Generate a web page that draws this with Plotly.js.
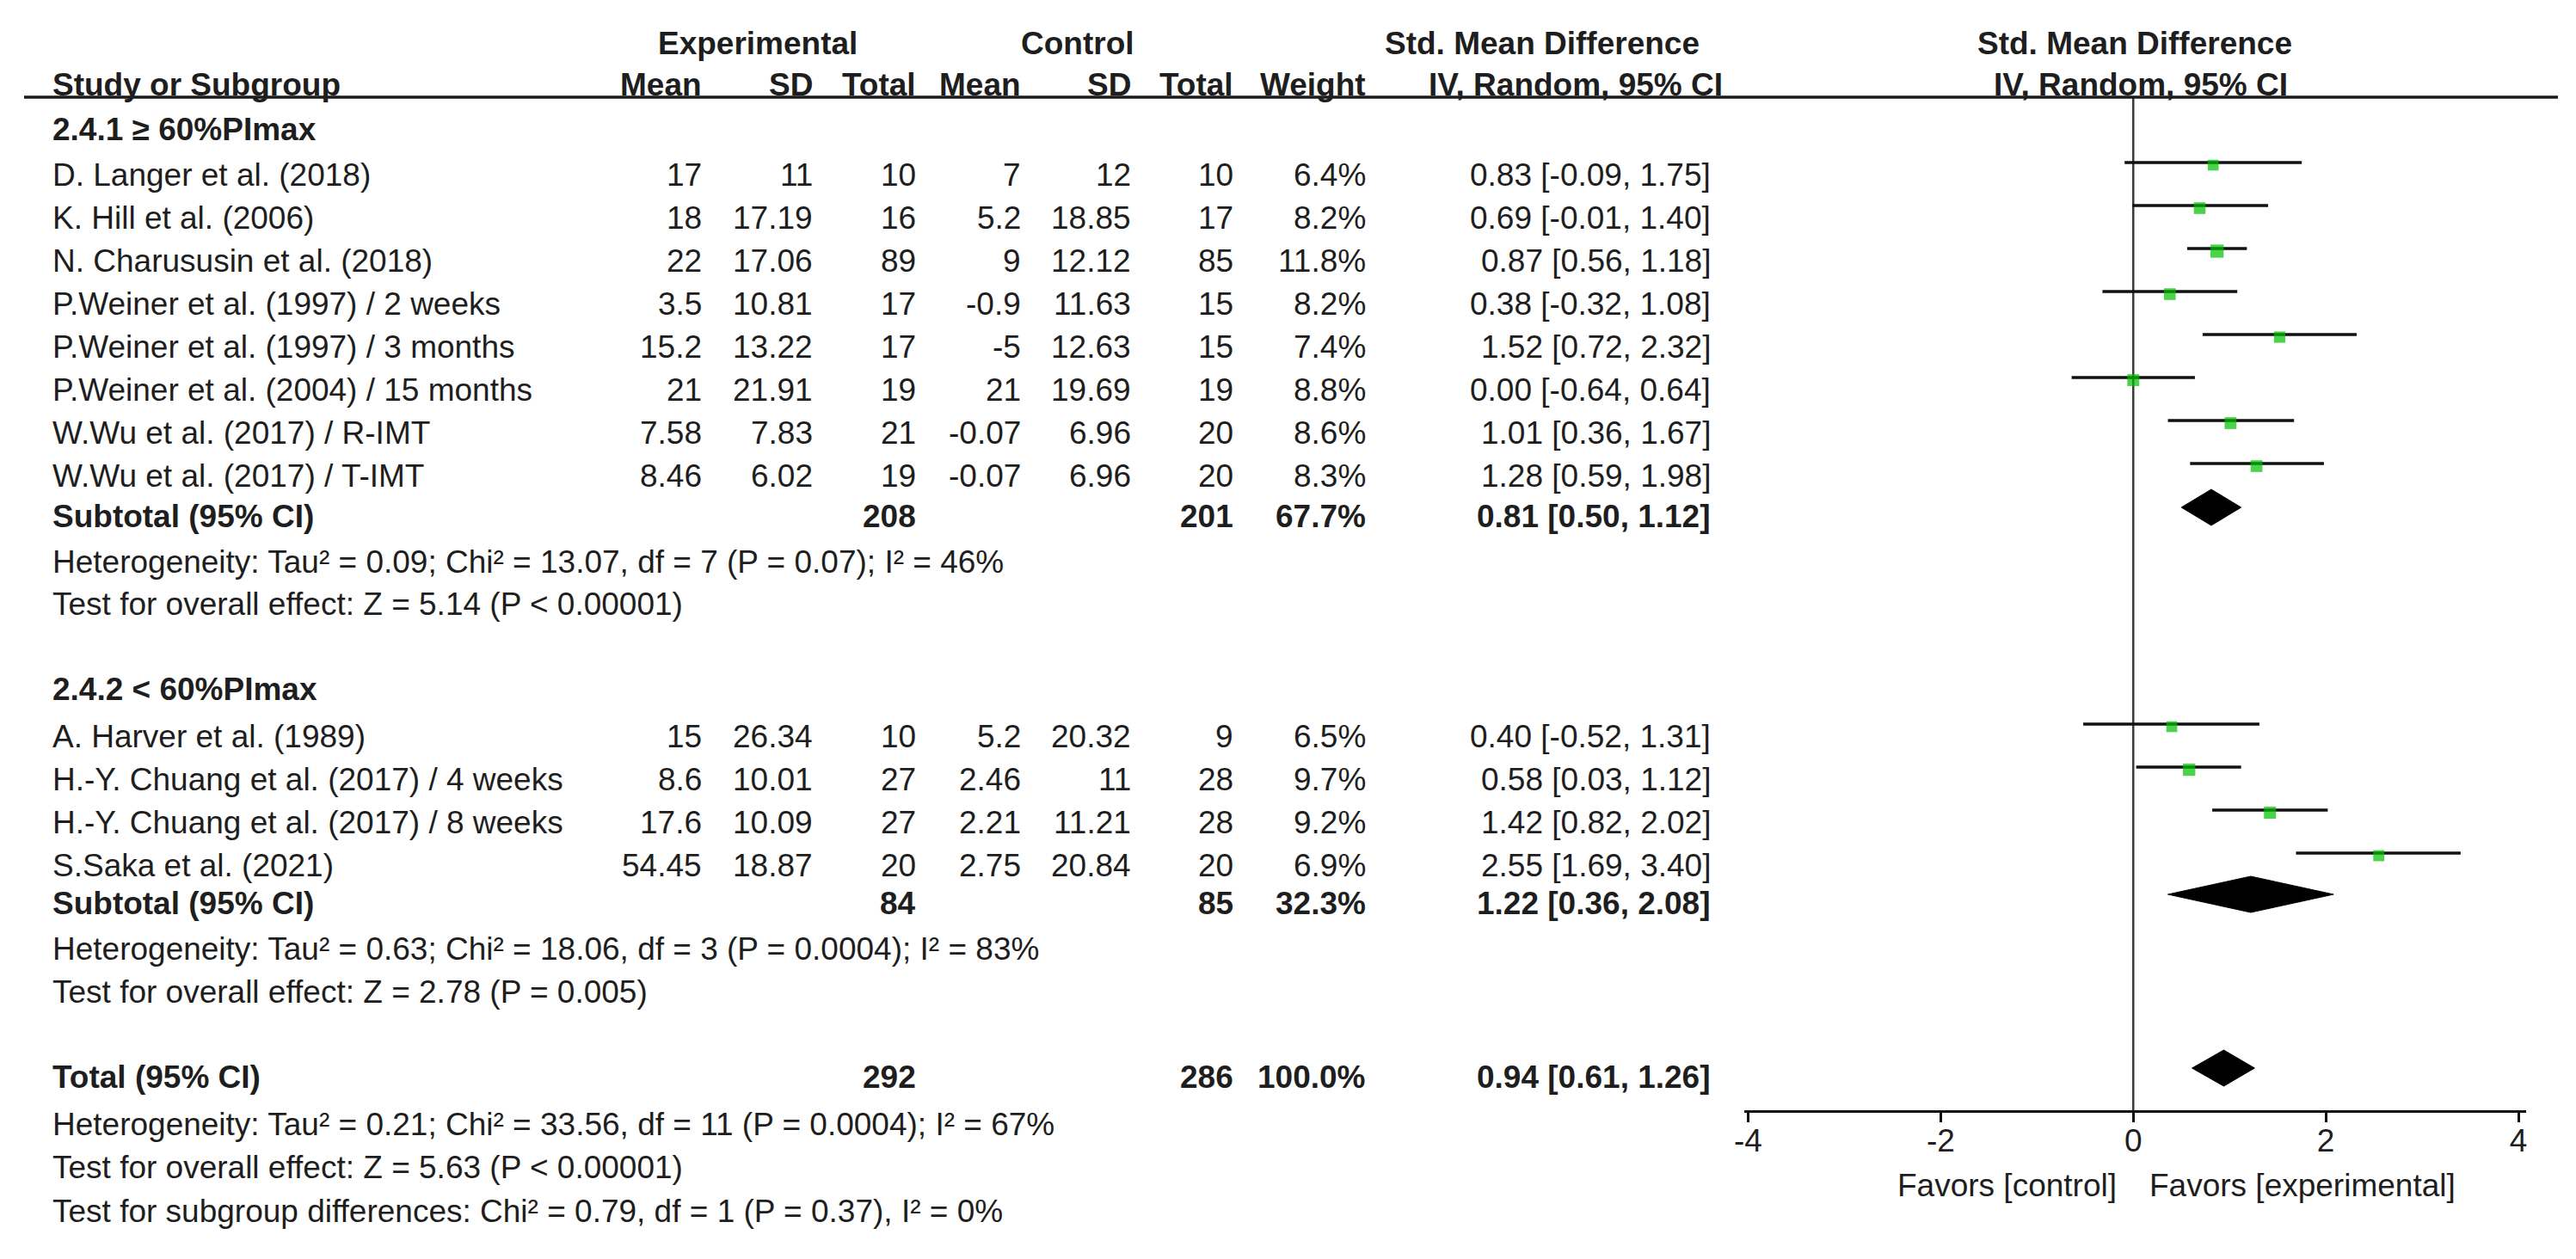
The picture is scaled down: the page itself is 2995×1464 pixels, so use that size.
<!DOCTYPE html>
<html>
<head>
<meta charset="utf-8">
<script src="https://cdn.plot.ly/plotly-3.0.1.min.js"></script>
<style>html,body{margin:0;padding:0;background:#fff;}#chart{width:2995px;height:1464px;}</style>
</head>
<body>
<div id="chart"></div>
<script>
// ---------------- DATA ----------------
const studies = [
  "D. Langer et al. (2018)",
  "K. Hill et al. (2006)",
  "N. Charususin et al. (2018)",
  "P.Weiner et al. (1997) / 2 weeks",
  "P.Weiner et al. (1997) / 3 months",
  "P.Weiner et al. (2004) / 15 months",
  "W.Wu et al. (2017) / R-IMT",
  "W.Wu et al. (2017) / T-IMT",
  "A. Harver et al. (1989)",
  "H.-Y. Chuang et al. (2017) / 4 weeks",
  "H.-Y. Chuang et al. (2017) / 8 weeks",
  "S.Saka et al. (2021)"
];
const expMean = [17, 18, 22, 3.5, 15.2, 21, 7.58, 8.46, 15, 8.6, 17.6, 54.45];
const expSD   = [11, 17.19, 17.06, 10.81, 13.22, 21.91, 7.83, 6.02, 26.34, 10.01, 10.09, 18.87];
const expN    = [10, 16, 89, 17, 17, 19, 21, 19, 10, 27, 27, 20];
const ctlMean = [7, 5.2, 9, -0.9, -5, 21, -0.07, -0.07, 5.2, 2.46, 2.21, 2.75];
const ctlSD   = [12, 18.85, 12.12, 11.63, 12.63, 19.69, 6.96, 6.96, 20.32, 11, 11.21, 20.84];
const ctlN    = [10, 17, 85, 15, 15, 19, 20, 20, 9, 28, 28, 20];
const weight  = [6.4, 8.2, 11.8, 8.2, 7.4, 8.8, 8.6, 8.3, 6.5, 9.7, 9.2, 6.9];
const smd     = [0.83, 0.69, 0.87, 0.38, 1.52, 0.00, 1.01, 1.28, 0.40, 0.58, 1.42, 2.55];
const ciLo    = [-0.09, -0.01, 0.56, -0.32, 0.72, -0.64, 0.36, 0.59, -0.52, 0.03, 0.82, 1.69];
const ciHi    = [1.75, 1.40, 1.18, 1.08, 2.32, 0.64, 1.67, 1.98, 1.31, 1.12, 2.02, 3.40];

const subgroups   = ["2.4.1 ≥ 60%PImax", "2.4.2 < 60%PImax"];
const subExpN     = [208, 84];
const subCtlN     = [201, 85];
const subWeight   = [67.7, 32.3];
const subSmd      = [0.81, 1.22];
const subLo       = [0.50, 0.36];
const subHi       = [1.12, 2.08];
const subHet  = [
  "Heterogeneity: Tau² = 0.09; Chi² = 13.07, df = 7 (P = 0.07); I² = 46%",
  "Heterogeneity: Tau² = 0.63; Chi² = 18.06, df = 3 (P = 0.0004); I² = 83%"
];
const subTest = [
  "Test for overall effect: Z = 5.14 (P < 0.00001)",
  "Test for overall effect: Z = 2.78 (P = 0.005)"
];
const totalExpN = 292, totalCtlN = 286, totalWeight = 100.0;
const totalSmd = 0.94, totalLo = 0.61, totalHi = 1.26;
const totalNotes = [
  "Heterogeneity: Tau² = 0.21; Chi² = 33.56, df = 11 (P = 0.0004); I² = 67%",
  "Test for overall effect: Z = 5.63 (P < 0.00001)",
  "Test for subgroup differences: Chi² = 0.79, df = 1 (P = 0.37), I² = 0%"
];
const tickVals = [-4, -2, 0, 2, 4];
const favLeft = "Favors [control]", favRight = "Favors [experimental]";

// ---------------- LAYOUT POSITIONS (pixels) ----------------
const W = 2995, H = 1464;
const FONT = "Arial, 'Liberation Sans', sans-serif";
const FS = 37;
const TXT = "#1e1e1e";
const col = {name: 60, expMean: 817, expSD: 946, expN: 1066, ctlMean: 1188, ctlSD: 1316, ctlN: 1435, weight: 1589, ci: 1990};
const rowHead1 = 50, rowHead2 = 98, headLineY = 113, axisY = 1292;
const rowTitle = [150, 801];
const rowStudy = [203, 253, 303, 353, 403, 453, 503, 553, 856, 906, 956, 1006];
const rowSub = [600, 1050];
const rowHet = [653, 1103];
const rowTest = [702, 1153];
const rowTotal = 1252;
const rowTotalNotes = [1307, 1357, 1408];
const lineShift = 14, sqShift = 11, diaShift = 10, diaHalf = 21;

// ---------------- HELPERS ----------------
const fmtCI = (e, l, h) => e.toFixed(2) + " [" + l.toFixed(2) + ", " + h.toFixed(2) + "]";
const ann = [];
function txt(xpx, y, s, anchor, bold) {
  ann.push({xref: 'paper', yref: 'y', x: xpx / W, y: y, text: bold ? '<b>' + s + '</b>' : s,
    xanchor: anchor, yanchor: 'middle', showarrow: false, borderpad: 0,
    font: {family: FONT, size: FS, color: TXT}});
}

// headers
txt(881, rowHead1, "Experimental", 'center', true);
txt(1253, rowHead1, "Control", 'center', true);
txt(1793, rowHead1, "Std. Mean Difference", 'center', true);
txt(2482, rowHead1, "Std. Mean Difference", 'center', true);
txt(col.name, rowHead2, "Study or Subgroup", 'left', true);
txt(col.expMean, rowHead2, "Mean", 'right', true);
txt(col.expSD, rowHead2, "SD", 'right', true);
txt(col.expN, rowHead2, "Total", 'right', true);
txt(col.ctlMean, rowHead2, "Mean", 'right', true);
txt(col.ctlSD, rowHead2, "SD", 'right', true);
txt(col.ctlN, rowHead2, "Total", 'right', true);
txt(col.weight, rowHead2, "Weight", 'right', true);
txt(1832, rowHead2, "IV, Random, 95% CI", 'center', true);
txt(2489, rowHead2, "IV, Random, 95% CI", 'center', true);

// subgroup titles
subgroups.forEach((s, g) => txt(col.name, rowTitle[g], s, 'left', true));

// study rows
studies.forEach((s, i) => {
  const y = rowStudy[i];
  txt(col.name, y, s, 'left', false);
  txt(col.expMean, y, String(expMean[i]), 'right', false);
  txt(col.expSD, y, String(expSD[i]), 'right', false);
  txt(col.expN, y, String(expN[i]), 'right', false);
  txt(col.ctlMean, y, String(ctlMean[i]), 'right', false);
  txt(col.ctlSD, y, String(ctlSD[i]), 'right', false);
  txt(col.ctlN, y, String(ctlN[i]), 'right', false);
  txt(col.weight, y, weight[i].toFixed(1) + "%", 'right', false);
  txt(col.ci, y, fmtCI(smd[i], ciLo[i], ciHi[i]), 'right', false);
});

// subtotal rows
subgroups.forEach((s, g) => {
  const y = rowSub[g];
  txt(col.name, y, "Subtotal (95% CI)", 'left', true);
  txt(col.expN, y, String(subExpN[g]), 'right', true);
  txt(col.ctlN, y, String(subCtlN[g]), 'right', true);
  txt(col.weight, y, subWeight[g].toFixed(1) + "%", 'right', true);
  txt(col.ci, y, fmtCI(subSmd[g], subLo[g], subHi[g]), 'right', true);
  txt(col.name, rowHet[g], subHet[g], 'left', false);
  txt(col.name, rowTest[g], subTest[g], 'left', false);
});

// total
txt(col.name, rowTotal, "Total (95% CI)", 'left', true);
txt(col.expN, rowTotal, String(totalExpN), 'right', true);
txt(col.ctlN, rowTotal, String(totalCtlN), 'right', true);
txt(col.weight, rowTotal, totalWeight.toFixed(1) + "%", 'right', true);
txt(col.ci, rowTotal, fmtCI(totalSmd, totalLo, totalHi), 'right', true);
totalNotes.forEach((s, k) => txt(col.name, rowTotalNotes[k], s, 'left', false));

// favours labels (anchored to the forest axis at 0)
ann.push({xref: 'x', yref: 'y', x: 0, y: 1378, xshift: -18, text: favLeft, xanchor: 'right', yanchor: 'middle',
  showarrow: false, borderpad: 0, font: {family: FONT, size: FS, color: TXT}});
ann.push({xref: 'x', yref: 'y', x: 0, y: 1378, xshift: 18, text: favRight, xanchor: 'left', yanchor: 'middle',
  showarrow: false, borderpad: 0, font: {family: FONT, size: FS, color: TXT}});

// ---------------- TRACES ----------------
const traces = [];
// CI whiskers
const lx = [], ly = [];
studies.forEach((s, i) => { lx.push(ciLo[i], ciHi[i], null); ly.push(rowStudy[i] - lineShift, rowStudy[i] - lineShift, null); });
traces.push({type: 'scatter', mode: 'lines', x: lx, y: ly, xaxis: 'x', yaxis: 'y',
  line: {color: '#111', width: 3.5}, hoverinfo: 'skip', showlegend: false});
// point estimates
traces.push({type: 'scatter', mode: 'markers', x: smd, y: rowStudy.map(r => r - sqShift), xaxis: 'x', yaxis: 'y',
  marker: {symbol: 'square', color: '#00c000', size: weight.map(w => 5 + 3 * Math.sqrt(w)), line: {width: 0}},
  hoverinfo: 'skip', showlegend: false});
// diamonds
function diamond(e, l, h, row) {
  const r = row - diaShift;
  traces.push({type: 'scatter', mode: 'lines', x: [l, e, h, e, l], y: [r, r - diaHalf, r, r + diaHalf, r],
    xaxis: 'x', yaxis: 'y', fill: 'toself', fillcolor: '#000', line: {color: '#000', width: 1},
    hoverinfo: 'skip', showlegend: false});
}
subgroups.forEach((s, g) => diamond(subSmd[g], subLo[g], subHi[g], rowSub[g]));
diamond(totalSmd, totalLo, totalHi, rowTotal);

// ---------------- LAYOUT ----------------
const xDomain = [2028 / W, 2937 / W];
const xRange = [-4.04, 4.08];
const axisPos = 1 - axisY / H;
const layout = {
  width: W, height: H,
  margin: {l: 0, r: 0, t: 0, b: 0, pad: 0},
  paper_bgcolor: '#fff', plot_bgcolor: 'rgba(0,0,0,0)',
  showlegend: false,
  font: {family: FONT, size: FS, color: TXT},
  xaxis: {domain: xDomain, range: xRange, anchor: 'free', position: axisPos,
    showline: true, linecolor: '#111', linewidth: 3, showgrid: false, zeroline: false,
    ticks: 'outside', ticklen: 11, tickwidth: 3, tickcolor: '#111',
    tickvals: tickVals, ticktext: tickVals.map(v => String(v)),
    tickfont: {family: FONT, size: FS, color: TXT}, ticklabelstandoff: -10, fixedrange: true},
  xaxis2: {domain: xDomain, range: xRange, anchor: 'free', position: axisPos, overlaying: 'x',
    showline: false, showgrid: false, zeroline: false, showticklabels: false,
    ticks: 'inside', ticklen: 11, tickwidth: 3, tickcolor: '#111', tickvals: tickVals},
  yaxis: {domain: [0, 1], range: [H, 0], visible: false, showgrid: false, zeroline: false, fixedrange: true},
  shapes: [
    {type: 'line', xref: 'paper', yref: 'y', x0: 28 / W, x1: 2974 / W, y0: headLineY, y1: headLineY,
      line: {color: '#1a1a1a', width: 3.5}},
    {type: 'line', xref: 'x', yref: 'y', x0: 0, x1: 0, y0: headLineY, y1: axisY,
      line: {color: '#3a3a3a', width: 2.5}, layer: 'below'}
  ],
  annotations: ann
};

Plotly.newPlot('chart', traces, layout, {staticPlot: true, displayModeBar: false});
</script>
</body>
</html>
